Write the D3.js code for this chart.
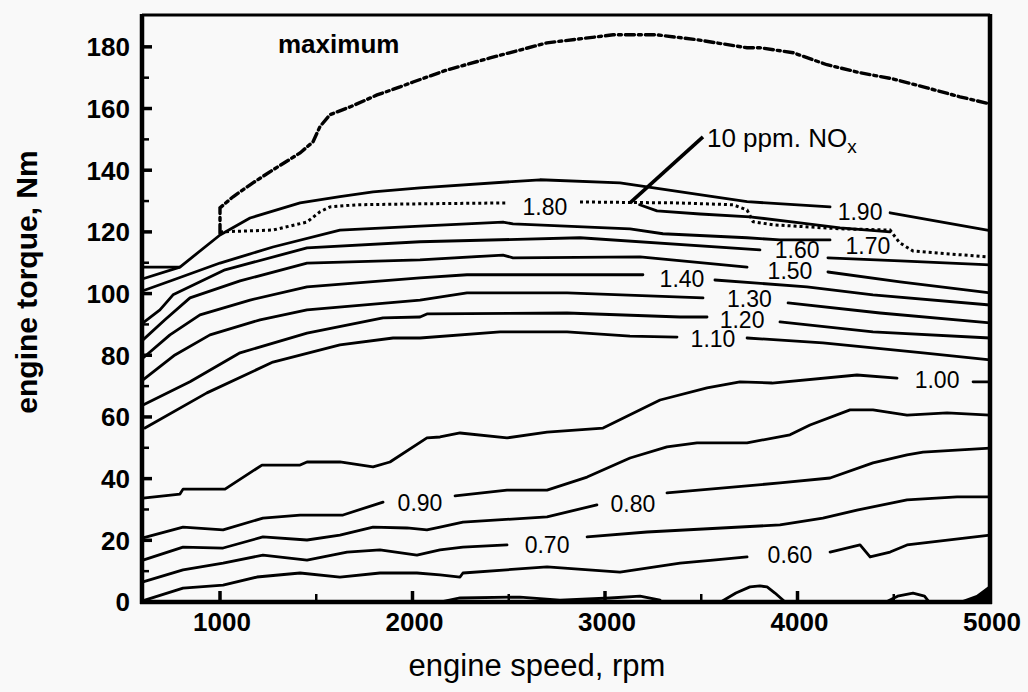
<!DOCTYPE html>
<html><head><meta charset="utf-8">
<script src="https://cdn.jsdelivr.net/npm/d3@7"></script>
<style>
html,body{margin:0;padding:0;background:#f9f9f9;}
svg{display:block;}
text{font-family:"Liberation Sans",Arial,Helvetica,sans-serif;fill:#000;}
</style></head><body>
<svg id="chart" width="1028" height="692"></svg>
<script>
// ---------- data (engine speed rpm, torque Nm) ----------
const xTicks = [1000, 2000, 3000, 4000, 5000];
const xMinorTicks = [1500, 2500, 3500, 4500];
const yTicks = [0, 20, 40, 60, 80, 100, 120, 140, 160, 180];
const yMinorTicks = [10, 30, 50, 70, 90, 110, 130, 150, 170];

const fullLoadLow = [[600,108.6],[792,108.6]];
const maxTorque = [[1000,119.5],[1000,127.8],[1068,131.4],[1171,135.9],[1275,140.1],[1416,145.6],[1483,149.2],[1519,154.1],[1571,158.0],[1675,160.5],[1816,164.4],[1935,167.0],[2003,168.6],[2179,172.5],[2403,176.4],[2699,181.3],[3042,183.9],[3270,183.9],[3478,182.3],[3738,179.7],[3805,179.7],[3977,178.1],[4153,174.2],[4325,171.6],[4496,169.6],[4673,166.7],[4844,163.8],[5000,161.5]];
const nox10 = [[1000,120.0],[1275,120.6],[1452,123.2],[1519,126.5],[1571,128.1],[1712,128.8],[2039,129.1],[2491,129.4],null,[2870,129.7],[3374,129.4],[3665,128.8],[3738,127.1],[3769,123.3],[3873,122.3],[4221,121.0],[4481,120.6],[4530,116.5],[4600,113.8],[4984,111.9],[5000,111.8]];
const noxLeader = [[3130,129.4],[3509,150.8]];

const c190 = [[600,104.8],[792,108.6],[1000,119.0],[1156,124.5],[1416,129.4],[1623,131.4],[1795,133.0],[2039,134.3],[2662,136.9],[3078,135.9],[3561,131.4],[3738,129.8],[4169,128.1],null,[4481,126.2],[5000,120.4]];
const c180 = [[3180,128.8],[3270,126.8],[3494,125.8],[3753,124.9],[4013,122.9],[4221,121.3],[4481,120.0]];
const c170 = [[600,100.9],[756,104.4],[1000,109.9],[1275,115.1],[1623,120.6],[2039,121.9],[2470,123.2],[2522,122.6],[3130,121.0],[3301,119.4],[3738,118.1],[3909,117.4],[4169,117.4]];
const c160 = [[600,90.5],[688,94.7],[756,99.6],[1026,107.7],[1452,114.8],[2039,116.8],[2870,118.1],[3805,114.2],null,[4158,111.6],[4533,110.6],[5000,109.3]];
const c150 = [[600,85.0],[714,91.5],[844,98.6],[1104,104.1],[1452,109.9],[2039,110.9],[2470,112.5],[2522,111.6],[3182,111.9],[3738,108.6],null,[4158,107.0],[4533,103.8],[5000,100.2]];
const c140 = [[600,79.1],[740,86.6],[896,93.1],[1156,97.9],[1452,102.2],[2039,105.1],[2283,106.1],[2974,106.1],[3197,106.1],null,[3571,104.4],[4049,102.2],[4392,99.6],[5000,96.3]];
const c130 = [[600,72.0],[766,80.1],[948,86.6],[1208,91.5],[1452,94.7],[2039,97.9],[2283,100.2],[2803,100.2],[3509,98.6],null,[3951,97.0],[4429,93.7],[5000,90.5]];
const c120 = [[600,63.9],[844,71.4],[1104,80.8],[1452,87.2],[1847,92.1],[2039,92.4],[2075,93.4],[2803,93.7],[3390,92.4],[3530,92.4],null,[3909,90.8],[4392,87.6],[5000,85.6]];
const c110 = [[610,56.4],[932,67.8],[1275,77.8],[1623,83.4],[1899,85.6],[2039,85.6],[2455,87.6],[2803,87.6],[3130,86.2],[3374,85.9],null,[3738,85.6],[4132,84.0],[4652,80.8],[5000,78.5]];
const c100 = [[600,33.7],[792,35.0],[808,36.6],[1026,36.6],[1218,44.4],[1416,44.4],[1452,45.4],[1623,45.4],[1795,43.8],[1883,45.4],[2075,53.2],[2143,53.5],[2247,54.8],[2491,53.2],[2699,55.1],[2990,56.4],[3286,65.5],[3530,69.4],[3701,71.4],[3868,71.0],[4309,73.6],[4517,72.6],null,[4912,71.4],[5000,71.4]];
const c090 = [[600,20.8],[808,24.3],[1016,23.4],[1223,27.2],[1416,28.2],[1639,28.2],[1847,32.4],null,[2221,34.4],[2491,36.3],[2699,36.3],[2907,40.5],[3130,46.7],[3322,50.3],[3478,51.6],[3738,51.6],[3961,54.2],[4065,57.4],[4273,62.3],[4392,62.3],[4569,60.6],[4777,61.3],[5000,60.6]];
const c080 = [[600,13.6],[808,17.8],[1016,17.5],[1223,21.1],[1452,20.1],[1623,21.7],[1795,24.3],[1971,24.0],[2075,23.4],[2143,24.3],[2262,25.9],[2699,27.6],[2958,31.5],null,[3322,35.4],[3909,38.6],[4169,40.2],[4392,45.1],[4569,47.7],[4652,48.6],[5000,49.9]];
const c070 = [[600,6.5],[808,10.4],[1016,12.6],[1223,15.2],[1452,13.6],[1660,16.2],[1831,16.9],[2023,15.2],[2143,16.9],[2262,17.8],[2491,18.5],null,[2907,21.1],[3218,22.7],[3909,25.0],[4132,27.2],[4309,29.8],[4569,33.1],[4829,34.1],[5000,34.1]];
const c060 = [[610,0.6],[808,4.5],[1016,5.5],[1192,8.1],[1416,9.4],[1623,8.1],[1831,9.4],[2023,9.4],[2143,8.8],[2247,8.1],[2262,9.4],[2699,11.4],[3078,9.7],[3390,12.6],[3561,13.6],[3738,14.6],null,[4169,16.2],[4325,18.5],[4377,14.6],[4481,16.2],[4569,18.5],[5000,21.7]];
const c050a = [[3610,0.3],[3680,2.9],[3753,4.9],[3805,5.2],[3842,4.9],[3883,2.9],[3930,0.3]];
const c050b = [[4470,0.3],[4520,1.9],[4600,2.9],[4660,1.9],[4680,0.3]];
const c050c = [[2143,0.0],[2247,1.3],[2558,1.6],[2766,0.6],[3026,1.3],[3182,1.9],[3286,0.6]];
const c050corner = [[4830,0],[4930,2.3],[5000,5.5],[5000,0]];

const contours = [c190,c180,c170,c160,c150,c140,c130,c120,c110,c100,c090,c080,c070,c060,c050a,c050b,c050c];

const labelText = ["1.90","1.80","1.70","1.60","1.50","1.40","1.30","1.20","1.10","1.00","0.90","0.80","0.70","0.60"];
const labelRpm  = [4325, 2688, 4366, 3998, 3961, 3400, 3750, 3712, 3561, 4725, 2039, 3145, 2699, 3961];
const labelNm   = [126.5,128.1,115.5,114.3,107.5,104.8, 98.4, 91.6, 85.4, 72.0, 32.1, 31.8, 18.5, 15.2];

// ---------- drawing ----------
const svg = d3.select("#chart");
const x = d3.scaleLinear().domain([600, 5000]).range([143, 990]);
const y = d3.scaleLinear().domain([0, 190]).range([602, 16]);

const line = d3.line().defined(d => d !== null).x(d => x(d[0])).y(d => y(d[1]));

const g = svg.append("g");

// contours
g.selectAll("path.contour").data(contours).join("path")
  .attr("class","contour")
  .attr("d", line)
  .attr("fill","none").attr("stroke","#000").attr("stroke-width",2.8)
  .attr("stroke-linejoin","round").attr("stroke-linecap","round");

g.append("path").attr("d", line(c050corner) + "Z").attr("fill","#000");

// full load low-speed segment
g.append("path").attr("d", line(fullLoadLow))
  .attr("fill","none").attr("stroke","#000").attr("stroke-width",2.8);

// maximum torque (dash-dot)
g.append("path").attr("d", line(maxTorque))
  .attr("fill","none").attr("stroke","#000").attr("stroke-width",3.4)
  .attr("stroke-dasharray","9,4,3,4").attr("stroke-linecap","round");

// 10 ppm NOx dotted
g.append("path").attr("d", line(nox10))
  .attr("fill","none").attr("stroke","#000").attr("stroke-width",3)
  .attr("stroke-dasharray","3,3");

// leader line
g.append("path").attr("d", line(noxLeader))
  .attr("fill","none").attr("stroke","#000").attr("stroke-width",3.6);

// contour labels
g.selectAll("text.clab").data(labelText).join("text")
  .attr("class","clab")
  .attr("x",(d,i)=>x(labelRpm[i]))
  .attr("y",(d,i)=>y(labelNm[i]))
  .attr("dy","0.36em")
  .attr("text-anchor","middle")
  .attr("font-size",23)
  .text(d=>d);

// annotations
svg.append("text").attr("x",278).attr("y",53)
  .attr("font-size",26).attr("font-weight","bold").text("maximum");
const nt = svg.append("text").attr("x",x(noxLeader[1][0])+4).attr("y",147).attr("font-size",26);
nt.append("tspan").text("10 ppm. NO");
nt.append("tspan").attr("font-size",19).attr("dy",6).text("x");

// frame
const L = x(600)-1, R = 990, T = 15, B = 602;
svg.append("line").attr("x1",L).attr("x2",L).attr("y1",T-1).attr("y2",B+2).attr("stroke","#000").attr("stroke-width",4.5);
svg.append("line").attr("x1",L-2).attr("x2",R+2).attr("y1",B).attr("y2",B).attr("stroke","#000").attr("stroke-width",4.5);
svg.append("line").attr("x1",R).attr("x2",R).attr("y1",T-1).attr("y2",B+2).attr("stroke","#000").attr("stroke-width",4.5);
svg.append("line").attr("x1",L).attr("x2",R).attr("y1",T).attr("y2",T).attr("stroke","#000").attr("stroke-width",3);

// ticks (inward)
svg.selectAll("line.yt").data(yTicks).join("line").attr("class","yt")
  .attr("x1",L).attr("x2",L+10).attr("y1",d=>y(d)).attr("y2",d=>y(d))
  .attr("stroke","#000").attr("stroke-width",3.5);
svg.selectAll("line.ytm").data(yMinorTicks).join("line").attr("class","ytm")
  .attr("x1",L).attr("x2",L+7).attr("y1",d=>y(d)).attr("y2",d=>y(d))
  .attr("stroke","#000").attr("stroke-width",2.5);
svg.selectAll("line.xt").data(xTicks.filter(d=>d<5000)).join("line").attr("class","xt")
  .attr("x1",d=>x(d)).attr("x2",d=>x(d)).attr("y1",B).attr("y2",B-11)
  .attr("stroke","#000").attr("stroke-width",3.5);
svg.selectAll("line.xtm").data(xMinorTicks).join("line").attr("class","xtm")
  .attr("x1",d=>x(d)).attr("x2",d=>x(d)).attr("y1",B).attr("y2",B-8)
  .attr("stroke","#000").attr("stroke-width",2.5);

// tick labels
svg.selectAll("text.yl").data(yTicks).join("text").attr("class","yl")
  .attr("x",130).attr("y",d=>y(d)).attr("dy","0.36em")
  .attr("text-anchor","end").attr("font-size",26).attr("font-weight","bold")
  .text(d=>d);
svg.selectAll("text.xl").data(xTicks).join("text").attr("class","xl")
  .attr("x",d=>x(d)+2).attr("y",631)
  .attr("text-anchor","middle").attr("font-size",26).attr("font-weight","bold")
  .text(d=>d);

// axis titles
svg.append("text").attr("x",537).attr("y",676).attr("text-anchor","middle")
  .attr("font-size",31).text("engine speed, rpm");
svg.append("text").attr("transform","translate(37,282) rotate(-90)")
  .attr("text-anchor","middle").attr("font-size",30).attr("font-weight","bold")
  .text("engine torque, Nm");
</script>
</body></html>
